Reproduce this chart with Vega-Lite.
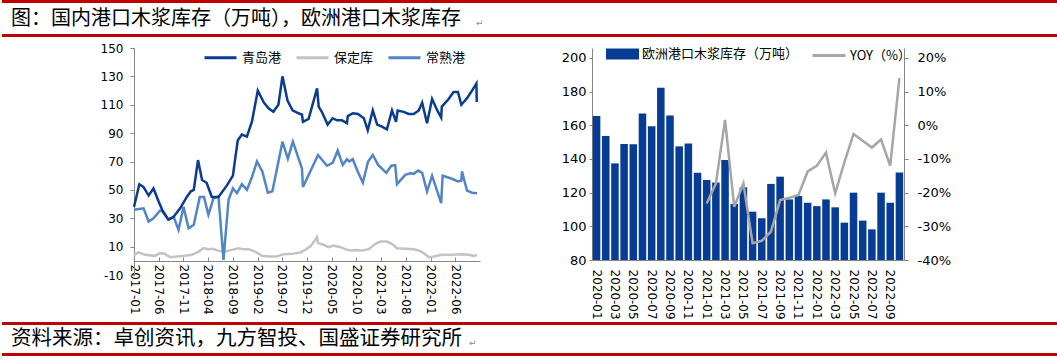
{
  "$schema": "https://vega.github.io/schema/vega-lite/v6.json",
  "padding": 0,
  "background": "white",
  "columns": 1,
  "align": "none",
  "spacing": 0,
  "config": {
    "view": {"stroke": null},
    "axis": {"labelFont": "DejaVu Sans", "labelColor": "#000000", "domainColor": "#868686", "tickColor": "#868686", "grid": false, "domainWidth": 1, "tickWidth": 1},
    "legend": {"labelFont": "Noto Sans CJK SC", "labelColor": "#000000"}
  },
  "concat": [
    {
      "width": 1057,
      "height": 37,
      "layer": [
        {
          "data": {"values": [{"pos": "top"}, {"pos": "bottom"}]},
          "mark": {"type": "rule", "color": "#c00000", "strokeWidth": 3},
          "encoding": {"y": {"field": "pos", "type": "nominal", "scale": {"type": "point", "domain": ["top", "mid", "bottom"], "padding": 0.09}, "axis": null}}
        },
        {
          "data": {"values": [{"pos": "mid", "t": "图：国内港口木浆库存（万吨），欧洲港口木浆库存"}]},
          "mark": {"type": "text", "align": "left", "baseline": "middle", "font": "Noto Sans CJK SC", "fontSize": 20, "color": "#000000", "dx": 9},
          "encoding": {
            "y": {"field": "pos", "type": "nominal"},
            "x": {"datum": 0, "type": "quantitative", "scale": {"domain": [0, 1057], "nice": false, "zero": false}, "axis": null},
            "text": {"field": "t"}
          }
        },
        {
          "data": {"values": [{"pos": "mid", "t": "↵"}]},
          "mark": {"type": "text", "align": "left", "baseline": "middle", "font": "DejaVu Sans", "fontSize": 9, "color": "#8a8a8a", "dy": 4},
          "encoding": {
            "y": {"field": "pos", "type": "nominal"},
            "x": {"datum": 474, "type": "quantitative"},
            "text": {"field": "t"}
          }
        }
      ]
    },
    {
      "columns": 3,
      "align": "none",
      "spacing": 73,
      "concat": [
        {
          "width": 19,
          "height": 10,
          "data": {"values": []},
          "mark": "point"
        },
        {
          "width": 346,
          "height": 227,
          "data": {"values": [
            {"s": "保定库", "d": "2017-01-01", "v": 4.2},
            {"s": "保定库", "d": "2017-01-30", "v": 5.9},
            {"s": "保定库", "d": "2017-03-10", "v": 4.2},
            {"s": "保定库", "d": "2017-05-10", "v": 3.5},
            {"s": "保定库", "d": "2017-06-10", "v": 5.4},
            {"s": "保定库", "d": "2017-07-11", "v": 4.9},
            {"s": "保定库", "d": "2017-08-11", "v": 2.6},
            {"s": "保定库", "d": "2017-09-22", "v": 3},
            {"s": "保定库", "d": "2017-11-12", "v": 3.5},
            {"s": "保定库", "d": "2017-12-23", "v": 4.2},
            {"s": "保定库", "d": "2018-02-03", "v": 6.5},
            {"s": "保定库", "d": "2018-03-04", "v": 8.9},
            {"s": "保定库", "d": "2018-04-04", "v": 8.2},
            {"s": "保定库", "d": "2018-05-05", "v": 8.5},
            {"s": "保定库", "d": "2018-06-05", "v": 7},
            {"s": "保定库", "d": "2018-07-15", "v": 6.5},
            {"s": "保定库", "d": "2018-08-26", "v": 7.7},
            {"s": "保定库", "d": "2018-10-07", "v": 8.9},
            {"s": "保定库", "d": "2018-11-07", "v": 8.2},
            {"s": "保定库", "d": "2018-12-07", "v": 8.2},
            {"s": "保定库", "d": "2019-01-17", "v": 6.5},
            {"s": "保定库", "d": "2019-02-28", "v": 3.5},
            {"s": "保定库", "d": "2019-04-09", "v": 3},
            {"s": "保定库", "d": "2019-05-29", "v": 3},
            {"s": "保定库", "d": "2019-07-10", "v": 4.7},
            {"s": "保定库", "d": "2019-08-31", "v": 4.9},
            {"s": "保定库", "d": "2019-10-21", "v": 5.9},
            {"s": "保定库", "d": "2019-11-21", "v": 7.7},
            {"s": "保定库", "d": "2019-12-22", "v": 10},
            {"s": "保定库", "d": "2020-01-22", "v": 14.8},
            {"s": "保定库", "d": "2020-02-02", "v": 16.7},
            {"s": "保定库", "d": "2020-02-08", "v": 12.5},
            {"s": "保定库", "d": "2020-03-13", "v": 11.3},
            {"s": "保定库", "d": "2020-04-13", "v": 9.6},
            {"s": "保定库", "d": "2020-05-14", "v": 10.8},
            {"s": "保定库", "d": "2020-06-24", "v": 9.6},
            {"s": "保定库", "d": "2020-07-24", "v": 8.2},
            {"s": "保定库", "d": "2020-08-25", "v": 7.3},
            {"s": "保定库", "d": "2020-09-25", "v": 7.7},
            {"s": "保定库", "d": "2020-11-05", "v": 7.3},
            {"s": "保定库", "d": "2020-12-16", "v": 8.2},
            {"s": "保定库", "d": "2021-01-26", "v": 12},
            {"s": "保定库", "d": "2021-02-26", "v": 13.6},
            {"s": "保定库", "d": "2021-04-07", "v": 13.6},
            {"s": "保定库", "d": "2021-05-08", "v": 12},
            {"s": "保定库", "d": "2021-06-08", "v": 8.9},
            {"s": "保定库", "d": "2021-07-29", "v": 8.5},
            {"s": "保定库", "d": "2021-09-19", "v": 8.2},
            {"s": "保定库", "d": "2021-10-20", "v": 7.3},
            {"s": "保定库", "d": "2021-11-20", "v": 5.4},
            {"s": "保定库", "d": "2021-12-21", "v": 2.6},
            {"s": "保定库", "d": "2022-01-21", "v": 3},
            {"s": "保定库", "d": "2022-03-11", "v": 4.2},
            {"s": "保定库", "d": "2022-05-12", "v": 4.2},
            {"s": "保定库", "d": "2022-07-13", "v": 4.7},
            {"s": "保定库", "d": "2022-08-24", "v": 4.2},
            {"s": "保定库", "d": "2022-09-24", "v": 3.5},
            {"s": "保定库", "d": "2022-10-14", "v": 4.2},
            {"s": "常熟港", "d": "2017-01-01", "v": 36},
            {"s": "常熟港", "d": "2017-03-01", "v": 37},
            {"s": "常熟港", "d": "2017-04-01", "v": 27.7},
            {"s": "常熟港", "d": "2017-05-01", "v": 30},
            {"s": "常熟港", "d": "2017-06-10", "v": 35.4},
            {"s": "常熟港", "d": "2017-07-01", "v": 34.7},
            {"s": "常熟港", "d": "2017-08-01", "v": 29},
            {"s": "常熟港", "d": "2017-09-02", "v": 31},
            {"s": "常熟港", "d": "2017-10-02", "v": 21.8},
            {"s": "常熟港", "d": "2017-11-02", "v": 38},
            {"s": "常熟港", "d": "2017-12-03", "v": 23},
            {"s": "常熟港", "d": "2018-01-04", "v": 25.4},
            {"s": "常熟港", "d": "2018-02-10", "v": 45},
            {"s": "常熟港", "d": "2018-03-08", "v": 45},
            {"s": "常熟港", "d": "2018-04-04", "v": 32.4},
            {"s": "常熟港", "d": "2018-05-05", "v": 44},
            {"s": "常熟港", "d": "2018-06-05", "v": 45.3},
            {"s": "常熟港", "d": "2018-07-06", "v": 0.7},
            {"s": "常熟港", "d": "2018-08-06", "v": 43},
            {"s": "常熟港", "d": "2018-09-02", "v": 51},
            {"s": "常熟港", "d": "2018-09-27", "v": 47.7},
            {"s": "常熟港", "d": "2018-10-27", "v": 54},
            {"s": "常熟港", "d": "2018-11-27", "v": 50},
            {"s": "常熟港", "d": "2018-12-28", "v": 59},
            {"s": "常熟港", "d": "2019-01-28", "v": 70},
            {"s": "常熟港", "d": "2019-03-02", "v": 63},
            {"s": "常熟港", "d": "2019-04-05", "v": 48},
            {"s": "常熟港", "d": "2019-05-03", "v": 49},
            {"s": "常熟港", "d": "2019-07-04", "v": 84},
            {"s": "常熟港", "d": "2019-08-06", "v": 72},
            {"s": "常熟港", "d": "2019-09-06", "v": 84},
            {"s": "常熟港", "d": "2019-11-01", "v": 65},
            {"s": "常熟港", "d": "2019-11-07", "v": 52},
            {"s": "常熟港", "d": "2020-02-08", "v": 74.6},
            {"s": "常熟港", "d": "2020-04-03", "v": 67},
            {"s": "常熟港", "d": "2020-05-08", "v": 69},
            {"s": "常熟港", "d": "2020-06-08", "v": 77.7},
            {"s": "常熟港", "d": "2020-07-09", "v": 67.6},
            {"s": "常熟港", "d": "2020-08-04", "v": 71.6},
            {"s": "常熟港", "d": "2020-08-18", "v": 70},
            {"s": "常熟港", "d": "2020-09-09", "v": 71.6},
            {"s": "常熟港", "d": "2020-10-05", "v": 64},
            {"s": "常熟港", "d": "2020-11-10", "v": 55},
            {"s": "常熟港", "d": "2020-12-12", "v": 70},
            {"s": "常熟港", "d": "2021-01-10", "v": 74.6},
            {"s": "常熟港", "d": "2021-02-12", "v": 67.6},
            {"s": "常熟港", "d": "2021-04-03", "v": 62},
            {"s": "常熟港", "d": "2021-05-04", "v": 67},
            {"s": "常熟港", "d": "2021-05-28", "v": 67.4},
            {"s": "常熟港", "d": "2021-06-08", "v": 54},
            {"s": "常熟港", "d": "2021-07-29", "v": 60.6},
            {"s": "常熟港", "d": "2021-08-29", "v": 61.7},
            {"s": "常熟港", "d": "2021-09-19", "v": 61.3},
            {"s": "常熟港", "d": "2021-10-16", "v": 63.6},
            {"s": "常熟港", "d": "2021-11-10", "v": 62},
            {"s": "常熟港", "d": "2021-12-10", "v": 48.8},
            {"s": "常熟港", "d": "2022-01-10", "v": 60},
            {"s": "常熟港", "d": "2022-03-07", "v": 40.6},
            {"s": "常熟港", "d": "2022-03-16", "v": 60},
            {"s": "常熟港", "d": "2022-05-08", "v": 58},
            {"s": "常熟港", "d": "2022-06-18", "v": 56},
            {"s": "常熟港", "d": "2022-07-09", "v": 56.5},
            {"s": "常熟港", "d": "2022-07-13", "v": 63},
            {"s": "常熟港", "d": "2022-08-13", "v": 49.5},
            {"s": "常熟港", "d": "2022-09-13", "v": 48},
            {"s": "常熟港", "d": "2022-10-14", "v": 47.6},
            {"s": "青岛港", "d": "2017-01-01", "v": 38},
            {"s": "青岛港", "d": "2017-02-03", "v": 54},
            {"s": "青岛港", "d": "2017-03-01", "v": 52},
            {"s": "青岛港", "d": "2017-04-01", "v": 46},
            {"s": "青岛港", "d": "2017-05-01", "v": 51},
            {"s": "青岛港", "d": "2017-06-01", "v": 42},
            {"s": "青岛港", "d": "2017-07-01", "v": 34},
            {"s": "青岛港", "d": "2017-08-01", "v": 29},
            {"s": "青岛港", "d": "2017-09-02", "v": 31},
            {"s": "青岛港", "d": "2017-10-12", "v": 37},
            {"s": "青岛港", "d": "2017-11-22", "v": 45},
            {"s": "青岛港", "d": "2017-12-17", "v": 49},
            {"s": "青岛港", "d": "2018-01-04", "v": 50},
            {"s": "青岛港", "d": "2018-01-30", "v": 71},
            {"s": "青岛港", "d": "2018-02-24", "v": 57},
            {"s": "青岛港", "d": "2018-03-24", "v": 55},
            {"s": "青岛港", "d": "2018-04-25", "v": 45},
            {"s": "青岛港", "d": "2018-06-05", "v": 45},
            {"s": "青岛港", "d": "2018-07-26", "v": 53},
            {"s": "青岛港", "d": "2018-09-02", "v": 60},
            {"s": "青岛港", "d": "2018-09-16", "v": 72},
            {"s": "青岛港", "d": "2018-10-02", "v": 85},
            {"s": "青岛港", "d": "2018-10-27", "v": 89},
            {"s": "青岛港", "d": "2018-11-27", "v": 87.5},
            {"s": "青岛港", "d": "2018-12-28", "v": 98},
            {"s": "青岛港", "d": "2019-02-02", "v": 120},
            {"s": "青岛港", "d": "2019-03-09", "v": 112},
            {"s": "青岛港", "d": "2019-04-09", "v": 107.5},
            {"s": "青岛港", "d": "2019-05-09", "v": 105},
            {"s": "青岛港", "d": "2019-06-09", "v": 110},
            {"s": "青岛港", "d": "2019-07-04", "v": 130},
            {"s": "青岛港", "d": "2019-08-04", "v": 113},
            {"s": "青岛港", "d": "2019-09-04", "v": 106},
            {"s": "青岛港", "d": "2019-10-11", "v": 104},
            {"s": "青岛港", "d": "2019-11-01", "v": 103},
            {"s": "青岛港", "d": "2019-11-07", "v": 98},
            {"s": "青岛港", "d": "2019-12-12", "v": 100},
            {"s": "青岛港", "d": "2020-02-02", "v": 121.6},
            {"s": "青岛港", "d": "2020-02-12", "v": 108.7},
            {"s": "青岛港", "d": "2020-03-02", "v": 105},
            {"s": "青岛港", "d": "2020-04-07", "v": 96},
            {"s": "青岛港", "d": "2020-05-08", "v": 100.5},
            {"s": "青岛港", "d": "2020-06-03", "v": 99},
            {"s": "青岛港", "d": "2020-07-04", "v": 99},
            {"s": "青岛港", "d": "2020-08-04", "v": 97},
            {"s": "青岛港", "d": "2020-08-09", "v": 102},
            {"s": "青岛港", "d": "2020-09-09", "v": 104},
            {"s": "青岛港", "d": "2020-10-11", "v": 103.5},
            {"s": "青岛港", "d": "2020-11-16", "v": 100.5},
            {"s": "青岛港", "d": "2020-12-10", "v": 92},
            {"s": "青岛港", "d": "2021-01-10", "v": 106},
            {"s": "青岛港", "d": "2021-02-06", "v": 96},
            {"s": "青岛港", "d": "2021-03-07", "v": 94.6},
            {"s": "青岛港", "d": "2021-04-07", "v": 92.7},
            {"s": "青岛港", "d": "2021-05-08", "v": 106},
            {"s": "青岛港", "d": "2021-06-02", "v": 98},
            {"s": "青岛港", "d": "2021-06-12", "v": 106},
            {"s": "青岛港", "d": "2021-07-19", "v": 105},
            {"s": "青岛港", "d": "2021-08-19", "v": 103.5},
            {"s": "青岛港", "d": "2021-09-19", "v": 103.5},
            {"s": "青岛港", "d": "2021-10-20", "v": 106},
            {"s": "青岛港", "d": "2021-11-10", "v": 111.5},
            {"s": "青岛港", "d": "2021-12-10", "v": 97},
            {"s": "青岛港", "d": "2022-01-10", "v": 114},
            {"s": "青岛港", "d": "2022-02-11", "v": 106},
            {"s": "青岛港", "d": "2022-03-07", "v": 101},
            {"s": "青岛港", "d": "2022-03-11", "v": 108.7},
            {"s": "青岛港", "d": "2022-04-22", "v": 114},
            {"s": "青岛港", "d": "2022-05-22", "v": 119},
            {"s": "青岛港", "d": "2022-06-18", "v": 119},
            {"s": "青岛港", "d": "2022-07-09", "v": 110},
            {"s": "青岛港", "d": "2022-08-13", "v": 114.6},
            {"s": "青岛港", "d": "2022-09-13", "v": 120},
            {"s": "青岛港", "d": "2022-10-10", "v": 125},
            {"s": "青岛港", "d": "2022-10-12", "v": 112}
          ]},
          "mark": {"type": "line", "strokeWidth": 2.5},
          "encoding": {
            "x": {
              "field": "d", "type": "temporal",
              "scale": {"type": "utc", "domain": [{"year": 2017, "month": 1, "date": 1, "utc": true}, {"year": 2022, "month": 11, "date": 1, "utc": true}]},
              "axis": {
                "title": null, "format": "%Y-%m", "labelAngle": 90, "offset": -14, "tickSize": -4, "labelPadding": 7, "labelFontSize": 12, "labelOverlap": false,
                "values": [
                  {"year": 2017, "month": 1, "date": 1, "utc": true},
                  {"year": 2017, "month": 6, "date": 1, "utc": true},
                  {"year": 2017, "month": 11, "date": 1, "utc": true},
                  {"year": 2018, "month": 4, "date": 1, "utc": true},
                  {"year": 2018, "month": 9, "date": 1, "utc": true},
                  {"year": 2019, "month": 2, "date": 1, "utc": true},
                  {"year": 2019, "month": 7, "date": 1, "utc": true},
                  {"year": 2019, "month": 12, "date": 1, "utc": true},
                  {"year": 2020, "month": 5, "date": 1, "utc": true},
                  {"year": 2020, "month": 10, "date": 1, "utc": true},
                  {"year": 2021, "month": 3, "date": 1, "utc": true},
                  {"year": 2021, "month": 8, "date": 1, "utc": true},
                  {"year": 2022, "month": 1, "date": 1, "utc": true},
                  {"year": 2022, "month": 6, "date": 1, "utc": true}
                ]
              }
            },
            "y": {
              "field": "v", "type": "quantitative",
              "scale": {"domain": [-10, 150], "nice": false, "zero": false},
              "axis": {"title": "|", "titleOpacity": 0, "titleAngle": 0, "titleX": 0, "titleY": -11, "titleAlign": "left", "titleBaseline": "top", "titleFontSize": 10,
                "values": [-10, 10, 30, 50, 70, 90, 110, 130, 150], "labelExpr": "'' + datum.value", "minExtent": 40, "tickSize": 4, "labelPadding": 7, "labelFontSize": 12}
            },
            "color": {
              "field": "s", "type": "nominal",
              "scale": {"domain": ["青岛港", "保定库", "常熟港"], "range": ["#0b3c8f", "#c3c3c3", "#5285c8"]},
              "legend": {"title": null, "orient": "none", "legendX": 201, "legendY": 40, "padding": 0, "direction": "horizontal", "symbolType": "stroke", "symbolSize": 1024, "symbolStrokeWidth": 3, "columnPadding": 8, "labelOffset": 4, "labelFontSize": 13}
            }
          }
        },
        {
          "width": 312,
          "height": 212,
          "data": {"values": [
            {"m": "2020-01", "stock": 165.6, "yoy": null},
            {"m": "2020-02", "stock": 153.7, "yoy": null},
            {"m": "2020-03", "stock": 137.4, "yoy": null},
            {"m": "2020-04", "stock": 148.9, "yoy": null},
            {"m": "2020-05", "stock": 148.7, "yoy": null},
            {"m": "2020-06", "stock": 167, "yoy": null},
            {"m": "2020-07", "stock": 159.5, "yoy": null},
            {"m": "2020-08", "stock": 182.3, "yoy": null},
            {"m": "2020-09", "stock": 165.8, "yoy": null},
            {"m": "2020-10", "stock": 147.5, "yoy": null},
            {"m": "2020-11", "stock": 149.2, "yoy": null},
            {"m": "2020-12", "stock": 131.9, "yoy": null},
            {"m": "2021-01", "stock": 127.5, "yoy": -23.2},
            {"m": "2021-02", "stock": 126, "yoy": -17.3},
            {"m": "2021-03", "stock": 139.4, "yoy": 1.6},
            {"m": "2021-04", "stock": 113.3, "yoy": -24.2},
            {"m": "2021-05", "stock": 123.2, "yoy": -17.3},
            {"m": "2021-06", "stock": 108.7, "yoy": -35},
            {"m": "2021-07", "stock": 104.8, "yoy": -34.3},
            {"m": "2021-08", "stock": 125.2, "yoy": -31.6},
            {"m": "2021-09", "stock": 129.5, "yoy": -22.2},
            {"m": "2021-10", "stock": 116, "yoy": -21.5},
            {"m": "2021-11", "stock": 118, "yoy": -20.7},
            {"m": "2021-12", "stock": 114, "yoy": -13.7},
            {"m": "2022-01", "stock": 112, "yoy": -12},
            {"m": "2022-02", "stock": 116, "yoy": -8.1},
            {"m": "2022-03", "stock": 111.3, "yoy": -20.2},
            {"m": "2022-04", "stock": 102.2, "yoy": -11},
            {"m": "2022-05", "stock": 120, "yoy": -2.6},
            {"m": "2022-06", "stock": 103.4, "yoy": -4.6},
            {"m": "2022-07", "stock": 98.2, "yoy": -6.6},
            {"m": "2022-08", "stock": 120, "yoy": -4.2},
            {"m": "2022-09", "stock": 114, "yoy": -12},
            {"m": "2022-10", "stock": 132, "yoy": 14}
          ]},
          "encoding": {
            "x": {
              "field": "m", "type": "ordinal",
              "scale": {"paddingInner": 0.18, "paddingOuter": 0.09},
              "axis": {"title": null, "labelAngle": 90, "ticks": false, "labelPadding": 9, "labelFontSize": 12, "labelOverlap": false,
                "values": ["2020-01", "2020-03", "2020-05", "2020-07", "2020-09", "2020-11", "2021-01", "2021-03", "2021-05", "2021-07", "2021-09", "2021-11", "2022-01", "2022-03", "2022-05", "2022-07", "2022-09"]}
            }
          },
          "layer": [
            {
              "mark": {"type": "bar"},
              "encoding": {
                "y": {"field": "stock", "type": "quantitative", "scale": {"domain": [80, 205.94], "zero": false, "nice": false},
                  "axis": {"title": null, "values": [80, 100, 120, 140, 160, 180, 200], "minExtent": 36, "tickSize": 3, "labelPadding": 3, "labelFontSize": 13}},
                "y2": {"datum": 80},
                "fill": {"datum": "欧洲港口木浆库存（万吨）", "type": "nominal", "scale": {"range": ["#063c94"]},
                  "legend": {"title": null, "orient": "none", "legendX": 604, "legendY": 37.5, "padding": 0, "symbolType": "M-1,-0.33H1V0.33H-1Z", "symbolSize": 1089, "symbolStrokeWidth": 0, "labelOffset": 3, "labelFontSize": 13, "labelLimit": 300}}
              }
            },
            {
              "mark": {"type": "line", "strokeWidth": 2.5},
              "encoding": {
                "y": {"field": "yoy", "type": "quantitative", "scale": {"domain": [-40, 22.97], "zero": false, "nice": false},
                  "axis": {"title": null, "orient": "right", "values": [-40, -30, -20, -10, 0, 10, 20], "labelExpr": "datum.value + '%'", "tickSize": 4, "labelPadding": 9, "labelFontSize": 13}},
                "stroke": {"datum": "YOY（%）", "type": "nominal", "scale": {"range": ["#a6a6a6"]},
                  "legend": {"title": null, "orient": "none", "legendX": 809, "legendY": 37.5, "padding": 0, "symbolType": "stroke", "symbolSize": 1089, "symbolStrokeWidth": 3, "labelOffset": 3, "labelFontSize": 13}}
              }
            }
          ],
          "resolve": {"scale": {"y": "independent"}}
        }
      ]
    },
    {
      "width": 1057,
      "height": 38,
      "layer": [
        {
          "data": {"values": [{"pos": "top"}, {"pos": "bottom"}]},
          "mark": {"type": "rule", "color": "#c00000", "strokeWidth": 3},
          "encoding": {"y": {"field": "pos", "type": "nominal", "scale": {"type": "point", "domain": ["top", "mid", "bottom"], "padding": 0.226}, "axis": null}}
        },
        {
          "data": {"values": [{"pos": "mid", "t": "资料来源：卓创资讯，九方智投、国盛证券研究所"}]},
          "mark": {"type": "text", "align": "left", "baseline": "middle", "font": "Noto Sans CJK SC", "fontSize": 20.5, "color": "#000000", "dx": 9},
          "encoding": {
            "y": {"field": "pos", "type": "nominal"},
            "x": {"datum": 0, "type": "quantitative", "scale": {"domain": [0, 1057], "nice": false, "zero": false}, "axis": null},
            "text": {"field": "t"}
          }
        },
        {
          "data": {"values": [{"pos": "mid", "t": "↵"}]},
          "mark": {"type": "text", "align": "left", "baseline": "middle", "font": "DejaVu Sans", "fontSize": 9, "color": "#8a8a8a", "dy": 4},
          "encoding": {
            "y": {"field": "pos", "type": "nominal"},
            "x": {"datum": 467, "type": "quantitative"},
            "text": {"field": "t"}
          }
        }
      ]
    }
  ]
}
